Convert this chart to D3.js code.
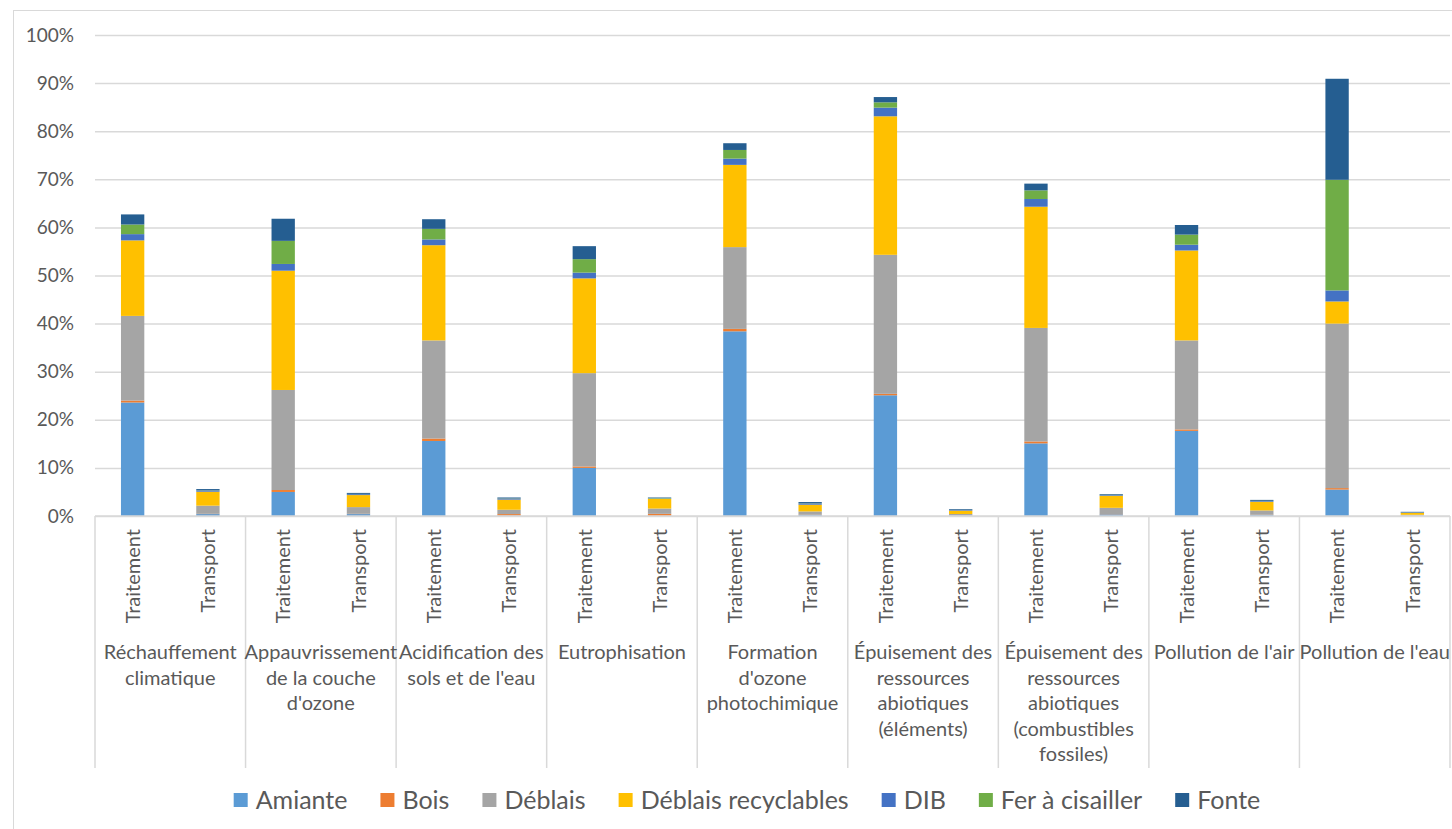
<!DOCTYPE html>
<html><head><meta charset="utf-8">
<script src="https://cdn.jsdelivr.net/npm/d3@7"></script>
<style>body{margin:0;background:#fff}svg{display:block;font-family:Lato,"Open Sans",sans-serif}</style>
</head><body><svg id="c" width="1452" height="829"></svg>
<script>
const categories = [
  ["Réchauffement","climatique"],
  ["Appauvrissement","de la couche","d'ozone"],
  ["Acidification des","sols et de l'eau"],
  ["Eutrophisation"],
  ["Formation","d'ozone","photochimique"],
  ["Épuisement des","ressources","abiotiques","(éléments)"],
  ["Épuisement des","ressources","abiotiques","(combustibles","fossiles)"],
  ["Pollution de l'air"],
  ["Pollution de l'eau"]
];
const subcategories = ["Traitement","Transport"];
const seriesNames = ["Amiante","Bois","Déblais","Déblais recyclables","DIB","Fer à cisailler","Fonte"];
const seriesColors = ["#5B9BD5","#ED7D31","#A5A5A5","#FFC000","#4472C4","#70AD47","#255E91"];
// values in %, order: [cat1 Traitement, cat1 Transport, cat2 Traitement, ...]
const amiante  = [23.6,0.4, 5.0,0.4, 15.6,0.1, 10.0,0.05, 38.4,0.2, 25.1,0.1, 15.1,0.35, 17.7,0.2, 5.5,0.05];
const bois     = [0.4,0.05, 0.4,0.05, 0.5,0.3, 0.3,0.4, 0.5,0.05, 0.3,0.02, 0.4,0.05, 0.3,0.05, 0.3,0.05];
const deblais  = [17.6,1.7, 20.8,1.4, 20.4,0.9, 19.4,1.1, 17.0,0.7, 28.9,0.3, 23.6,1.3, 18.5,0.9, 34.2,0.15];
const deblaisR = [15.7,2.9, 24.8,2.5, 19.8,2.1, 19.7,2.0, 17.1,1.4, 28.8,0.7, 25.2,2.5, 18.7,1.8, 4.6,0.4];
const dib      = [1.3,0.3, 1.4,0.2, 1.2,0.2, 1.2,0.1, 1.3,0.3, 1.8,0.15, 1.6,0.15, 1.2,0.15, 2.3,0.1];
const fer      = [2.0,0.05, 4.8,0.05, 2.2,0.05, 2.8,0.1, 1.8,0.05, 1.1,0.02, 1.8,0.05, 2.1,0.05, 23.0,0.02];
const fonte    = [2.1,0.2, 4.6,0.2, 2.0,0.2, 2.7,0.1, 1.4,0.2, 1.1,0.15, 1.4,0.15, 2.0,0.2, 21.0,0.1];
const yTicks = [0,10,20,30,40,50,60,70,80,90,100];

const seriesValues = [amiante,bois,deblais,deblaisR,dib,fer,fonte];
const rows = [];
categories.forEach((c,i)=>subcategories.forEach((s,j)=>{
  const r = {cat:i, sub:s};
  seriesNames.forEach((n,k)=>r[n]=seriesValues[k][i*2+j]);
  rows.push(r);
}));

const svg = d3.select("#c");
const L=95, R=1450, T=35, B=516;
const grid="#d9d9d9", txt="#595959";

svg.append("rect").attr("x",13.5).attr("y",10.5).attr("width",1452).attr("height",830)
  .attr("fill","none").attr("stroke","#d9d9d9");

const y = d3.scaleLinear().domain([0,100]).range([B,T]);
const x0 = d3.scaleBand().domain(d3.range(categories.length)).range([L,R]).padding(0);
const x1 = d3.scaleBand().domain(subcategories).range([0,x0.bandwidth()]).paddingInner(0.69).paddingOuter(0.345);

// gridlines + y labels
const yAxis = d3.axisLeft(y).tickValues(yTicks).tickSize(-(R-L)).tickPadding(21).tickFormat(d=>d+"%");
const gy = svg.append("g").attr("transform",`translate(${L},0)`).call(yAxis);
gy.select(".domain").remove();
gy.selectAll(".tick line").attr("stroke",grid).attr("stroke-width",1.5);
gy.selectAll(".tick text").attr("fill",txt).attr("font-size",19).attr("font-family","Lato");

// bars
const stack = d3.stack().keys(seriesNames)(rows);
svg.append("g").selectAll("g").data(stack).join("g").attr("fill",(d,i)=>seriesColors[i])
  .selectAll("rect").data(d=>d).join("rect")
  .attr("x",d=>x0(d.data.cat)+x1(d.data.sub))
  .attr("width",x1.bandwidth())
  .attr("y",d=>y(d[1]))
  .attr("height",d=>Math.max(0,y(d[0])-y(d[1])));

// x axis line and separators
svg.append("line").attr("x1",L).attr("x2",R).attr("y1",B).attr("y2",B).attr("stroke",grid).attr("stroke-width",1.5);
const seps = d3.range(categories.length+1).map(i=> i<categories.length ? x0(i) : x0(i-1)+x0.bandwidth());
svg.append("g").selectAll("line").data(seps).join("line")
  .attr("x1",d=>d).attr("x2",d=>d).attr("y1",B).attr("y2",768)
  .attr("stroke",grid).attr("stroke-width",1.5);

// sub labels
const subG = svg.append("g").attr("font-size",20).attr("fill",txt);
categories.forEach((c,i)=>subcategories.forEach(s=>{
  const cx = x0(i)+x1(s)+x1.bandwidth()/2;
  subG.append("text").attr("transform",`translate(${cx},529) rotate(-90)`)
    .attr("text-anchor","end").attr("dy","0.36em").text(s);
}));

// category labels
const catG = svg.append("g").attr("font-size",20).attr("fill",txt).attr("text-anchor","middle");
categories.forEach((lines,i)=>{
  const cx = x0(i)+x0.bandwidth()/2;
  lines.forEach((ln,k)=>{
    catG.append("text").attr("x",cx).attr("y",652+k*25.6).attr("dy","0.35em").text(ln);
  });
});

// legend
const lg = svg.append("g").attr("font-size",25).attr("fill",txt);
let cur = 0; const items=[];
seriesNames.forEach((n,i)=>{
  const g = lg.append("g");
  g.append("rect").attr("x",0).attr("y",-7).attr("width",14).attr("height",14).attr("fill",seriesColors[i]);
  const t = g.append("text").attr("x",22).attr("dy","0.35em").text(n);
  const w = t.node().getComputedTextLength();
  items.push({g,off:cur});
  cur += 22 + w + 33;
});
cur -= 33;
const start = 747 - cur/2;
items.forEach(it=>it.g.attr("transform",`translate(${start+it.off},800)`));
</script></body></html>
